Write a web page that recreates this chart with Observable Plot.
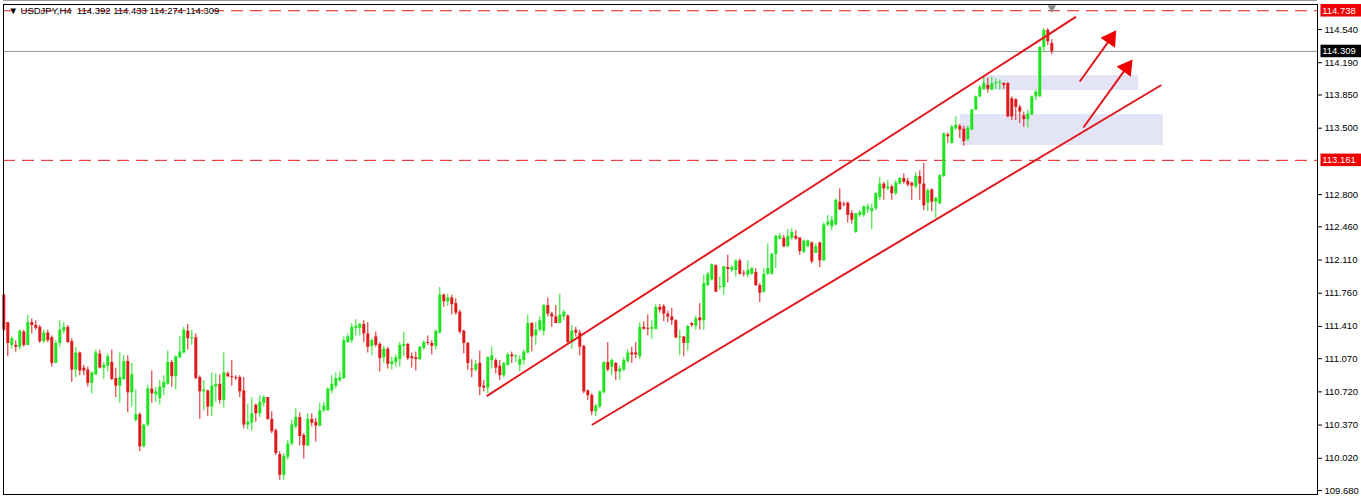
<!DOCTYPE html>
<html><head><meta charset="utf-8">
<script src="https://cdn.jsdelivr.net/npm/d3@7"></script>
<script src="https://cdn.jsdelivr.net/npm/@observablehq/plot@0.6"></script>
<style>body{margin:0;background:#fff} svg{display:block}</style>
</head><body><div id="chart"></div>
<script>
// USDJPY H4 candles
const open = [
111.74,111.45,111.21,111.21,111.19,111.35,111.21,111.45,111.42,111.40,
111.25,111.34,111.29,111.02,111.23,111.36,111.40,111.25,110.95,111.13,
110.97,110.95,110.81,110.90,111.12,110.97,110.99,111.03,110.86,110.78,
110.85,111.04,110.71,110.42,110.48,110.14,110.37,110.75,110.69,110.65,
110.76,110.80,111.03,110.88,111.08,111.13,111.36,111.28,111.29,110.87,
110.72,110.73,110.56,110.77,110.80,110.63,110.91,110.88,110.87,110.87,
110.73,110.37,110.39,110.58,110.49,110.60,110.66,110.43,110.31,110.06,
109.84,110.03,110.17,110.35,110.45,110.26,110.15,110.43,110.40,110.36,
110.52,110.52,110.73,110.78,110.84,110.86,111.24,111.26,111.39,111.39,
111.43,111.33,111.20,111.30,111.22,111.08,111.17,111.01,111.03,111.06,
111.20,111.22,111.09,111.08,111.06,111.18,111.24,111.23,111.20,111.34,
111.74,111.67,111.71,111.65,111.56,111.36,111.23,110.96,110.95,111.02,
110.78,110.76,111.05,111.05,110.99,110.89,111.00,111.11,111.09,111.00,
111.05,111.13,111.44,111.31,111.37,111.36,111.63,111.54,111.51,111.44,
111.51,111.52,111.24,111.37,111.34,111.20,110.73,110.68,110.51,110.56,
110.71,111.03,110.98,111.02,110.93,110.95,111.04,111.13,111.13,111.09,
111.40,111.39,111.38,111.38,111.61,111.62,111.54,111.51,111.47,111.29,
111.30,111.23,111.44,111.41,111.50,111.47,111.84,111.90,112.05,111.82,
111.82,112.03,112.00,112.00,112.10,111.97,111.95,111.96,111.98,111.84,
111.77,111.96,111.96,112.17,112.33,112.34,112.25,112.34,112.36,112.34,
112.19,112.25,112.29,112.18,112.29,112.10,112.48,112.46,112.48,112.72,
112.70,112.71,112.60,112.40,112.58,112.58,112.64,112.62,112.65,112.77,
112.91,112.86,112.88,112.81,112.91,112.97,112.94,112.92,112.88,112.99,
112.91,112.71,112.85,112.72,112.70,112.99,113.43,113.34,113.49,113.52,
113.49,113.38,113.48,113.69,113.83,113.91,113.95,113.90,113.97,113.97,
113.97,113.97,113.81,113.80,113.72,113.63,113.59,113.64,113.83,113.83,
114.35,114.53,114.392];
const high = [
111.75,111.45,111.30,111.26,111.37,111.37,111.53,111.49,111.47,111.42,
111.37,111.37,111.31,111.26,111.47,111.45,111.42,111.28,111.19,111.14,
111.00,110.98,110.93,111.16,111.16,111.03,111.12,111.16,110.97,111.13,
111.10,111.10,111.02,110.74,110.50,110.38,110.79,110.94,110.77,110.84,
110.89,111.15,111.05,111.10,111.30,111.40,111.43,111.37,111.33,110.89,
110.84,110.74,110.92,110.91,110.90,111.13,110.93,111.05,110.89,110.89,
110.87,110.59,110.66,110.59,110.68,110.68,110.66,110.51,110.33,110.09,
110.07,110.21,110.42,110.54,110.50,110.28,110.49,110.49,110.44,110.60,
110.61,110.76,110.89,110.92,110.93,111.30,111.33,111.44,111.48,111.44,
111.47,111.45,111.28,111.35,111.24,111.20,111.19,111.09,111.11,111.24,
111.35,111.23,111.13,111.14,111.20,111.26,111.31,111.26,111.37,111.82,
111.75,111.75,111.74,111.70,111.58,111.37,111.24,111.06,111.05,111.15,
110.84,111.09,111.19,111.07,111.05,111.03,111.13,111.14,111.11,111.10,
111.16,111.53,111.45,111.45,111.51,111.64,111.71,111.56,111.63,111.75,
111.58,111.53,111.42,111.40,111.37,111.21,110.74,110.70,110.59,110.73,
111.04,111.24,111.07,111.03,110.99,111.08,111.16,111.19,111.24,111.45,
111.46,111.53,111.47,111.64,111.64,111.64,111.57,111.60,111.48,111.37,
111.30,111.42,111.45,111.52,111.65,111.95,111.98,112.07,112.06,111.93,
112.04,112.16,112.05,112.11,112.12,112.00,112.10,112.03,112.02,111.86,
112.02,112.28,112.18,112.37,112.39,112.37,112.43,112.44,112.42,112.35,
112.32,112.32,112.30,112.28,112.30,112.50,112.58,112.57,112.75,112.86,
112.72,112.72,112.63,112.60,112.63,112.68,112.70,112.70,112.82,112.98,
112.93,112.95,112.90,112.95,112.98,113.02,112.97,112.93,113.03,113.05,
113.13,112.86,112.86,112.77,113.01,113.45,113.45,113.53,113.62,113.54,
113.52,113.52,113.70,113.84,113.95,114.04,114.03,114.04,114.02,114.01,
113.98,113.98,113.83,113.81,113.74,113.67,113.69,113.84,113.90,114.36,
114.55,114.55,114.433];
const low = [
111.35,111.09,111.17,111.14,111.16,111.19,111.21,111.33,111.37,111.23,
111.23,111.24,110.98,111.02,111.19,111.33,111.23,110.82,110.87,110.89,
110.89,110.77,110.70,110.89,110.96,110.85,110.93,110.84,110.66,110.60,
110.84,110.50,110.56,110.40,110.09,110.13,110.35,110.60,110.61,110.58,
110.68,110.79,110.77,110.74,111.07,111.12,111.16,111.21,110.85,110.43,
110.52,110.46,110.46,110.61,110.59,110.55,110.87,110.78,110.84,110.66,
110.33,110.32,110.31,110.40,110.45,110.56,110.42,110.28,110.05,109.79,
109.79,110.00,110.15,110.33,110.15,110.01,110.14,110.35,110.19,110.35,
110.50,110.52,110.70,110.75,110.82,110.85,111.23,111.23,111.31,111.31,
111.24,111.13,111.10,111.19,110.93,111.02,110.96,110.95,110.98,110.98,
111.09,111.05,110.97,110.94,111.05,111.16,111.21,111.11,111.16,111.33,
111.61,111.62,111.53,111.53,111.33,111.12,110.95,110.87,110.93,110.68,
110.72,110.70,110.96,110.91,110.84,110.87,110.99,111.02,111.03,110.93,
111.00,111.12,111.14,111.21,111.35,111.31,111.51,111.40,111.44,111.44,
111.47,111.23,111.17,111.30,111.10,110.70,110.63,110.47,110.46,110.54,
110.70,110.93,110.89,110.84,110.84,110.93,111.02,111.02,111.07,111.06,
111.37,111.31,111.27,111.37,111.55,111.46,111.45,111.42,111.28,111.10,
111.09,111.15,111.40,111.37,111.37,111.37,111.83,111.89,111.77,111.79,
111.74,111.87,111.98,111.93,111.95,111.93,111.92,111.95,111.83,111.66,
111.76,111.95,111.95,112.02,112.32,112.24,112.24,112.32,112.32,112.16,
112.18,112.24,112.07,112.18,112.03,112.10,112.46,112.42,112.47,112.63,
112.67,112.50,112.49,112.39,112.56,112.56,112.60,112.43,112.63,112.74,
112.74,112.84,112.74,112.79,112.90,112.91,112.88,112.74,112.86,112.74,
112.63,112.62,112.62,112.55,112.70,112.98,113.34,113.33,113.48,113.39,
113.31,113.36,113.48,113.69,113.82,113.90,113.87,113.90,113.91,113.90,
113.91,113.61,113.58,113.58,113.55,113.51,113.50,113.63,113.79,113.83,
114.30,114.37,114.274];
const close = [
111.37,111.23,111.28,111.19,111.36,111.21,111.45,111.42,111.39,111.25,
111.34,111.26,111.02,111.23,111.37,111.40,111.24,110.95,111.13,110.94,
110.94,110.81,110.92,111.13,110.97,111.00,111.09,110.85,110.78,110.87,
111.04,110.71,110.90,110.48,110.14,110.37,110.75,110.70,110.72,110.77,
110.82,111.03,110.88,111.09,111.14,111.37,111.28,111.29,110.86,110.72,
110.74,110.56,110.78,110.80,110.63,110.92,110.88,110.87,110.86,110.72,
110.37,110.40,110.49,110.49,110.61,110.66,110.43,110.30,110.07,109.84,
110.04,110.17,110.37,110.45,110.25,110.15,110.43,110.39,110.36,110.52,
110.57,110.75,110.80,110.86,110.87,111.26,111.30,111.40,111.41,111.43,
111.33,111.19,111.26,111.21,111.07,111.17,111.01,111.04,111.08,111.21,
111.22,111.07,111.07,111.06,111.19,111.24,111.23,111.20,111.36,111.74,
111.67,111.71,111.64,111.55,111.35,111.23,111.02,110.95,111.01,110.77,
110.76,111.08,111.10,110.97,110.89,111.02,111.11,111.09,111.10,111.06,
111.14,111.44,111.30,111.37,111.47,111.63,111.54,111.51,111.44,111.53,
111.56,111.24,111.36,111.34,111.19,110.72,110.68,110.51,110.57,110.72,
111.03,110.95,111.05,110.93,110.96,111.05,111.13,111.11,111.11,111.40,
111.38,111.38,111.40,111.61,111.58,111.54,111.51,111.47,111.29,111.30,
111.23,111.41,111.42,111.49,111.47,111.86,111.96,112.06,111.77,111.83,
112.04,112.01,112.03,112.10,111.96,111.96,112.00,112.02,111.84,111.76,
111.96,112.02,112.17,112.36,112.36,112.25,112.36,112.40,112.33,112.20,
112.31,112.31,112.09,112.25,112.10,112.48,112.51,112.53,112.74,112.64,
112.69,112.58,112.53,112.60,112.61,112.67,112.67,112.65,112.81,112.91,
112.86,112.88,112.81,112.92,112.97,112.93,112.90,112.89,112.99,112.91,
112.68,112.84,112.72,112.76,113.00,113.44,113.41,113.51,113.53,113.48,
113.36,113.50,113.69,113.83,113.93,113.97,113.91,113.97,113.98,113.98,
113.95,113.62,113.62,113.72,113.67,113.59,113.65,113.83,113.88,114.35,
114.53,114.41,114.309];

// price axis
const tickValues = [114.540,114.190,113.850,113.500,112.800,112.460,112.110,111.760,111.410,111.070,110.720,110.370,110.020,109.680];
// horizontal levels
const dashedLevels = [114.738, 113.161];
const lastPrice = 114.309;
const header = "▼ USDJPY,H4  114.392 114.433 114.274 114.309";
// channel lines: [bar index, price]
const upperChannel = [[120.9, 110.68], [267.9, 114.67]];
const lowerChannel = [[147.2, 110.376], [289.2, 113.95]];
// shaded zones: [i1, i2, priceTop, priceBottom]
const zones = [[244.7, 283.7, 114.055, 113.897], [239.2, 289.9, 113.644, 113.317]];
// arrows: [i start, price start, i head, price head, angle]
const arrows = [[269.0, 113.992, 276.7, 114.445, 34], [269.9, 113.507, 280.7, 114.139, 36]];

const GREEN = "#1de41d", RED = "#e01a1a", CHRED = "#e3161b";
const candles = open.map((o, i) => ({i, open: o, high: high[i], low: low[i], close: close[i], col: close[i] >= o ? GREEN : RED}));

const xDom = [-0.075, 328.425];
const yDom = [109.638, 114.804];
const lbl = (p, bg) => ({p, bg, t: p.toFixed(3)});
const boxes = [lbl(114.738, "#f00000"), lbl(lastPrice, "#000"), lbl(113.161, "#f00000")];

const chart = Plot.plot({
  width: 1361, height: 496,
  marginLeft: 3, marginRight: 44, marginTop: 4, marginBottom: 2,
  x: {domain: xDom, axis: null},
  y: {domain: yDom, axis: null},
  color: {type: "identity"},
  style: {fontFamily: "Liberation Sans, Arial, sans-serif", fontSize: "9.5px", color: "#000", background: "#fff"},
  marks: [
    Plot.ruleY([114.846], {stroke: "#9a9a9a"}),
    Plot.rect(zones, {x1: d => d[0], x2: d => d[1], y1: d => d[2], y2: d => d[3], fill: "#e3e5f7"}),
    Plot.ruleY(dashedLevels, {stroke: RED, strokeDasharray: "12,7"}),
    Plot.ruleY([lastPrice], {stroke: "#8c9a9a"}),
    Plot.ruleX(candles, {x: "i", y1: "low", y2: "high", stroke: "col", strokeWidth: 1}),
    Plot.ruleX(candles, {x: "i", y1: "open", y2: "close", stroke: "col", strokeWidth: 3}),
    Plot.line(upperChannel, {x: d => d[0], y: d => d[1], stroke: CHRED, strokeWidth: 2}),
    Plot.line(lowerChannel, {x: d => d[0], y: d => d[1], stroke: CHRED, strokeWidth: 2}),
    Plot.link(arrows, {x1: d => d[0], y1: d => d[1], x2: d => d[2], y2: d => d[3], stroke: CHRED, strokeWidth: 2}),
    Plot.dot(arrows, {x: d => d[2], y: d => d[3], symbol: "triangle", r: 6.5, fill: "#f00000", stroke: "none", rotate: d => d[4]}),
    Plot.dot([262], {x: d => d, y: 114.77, symbol: "triangle", r: 3.2, fill: "#8a8a8a", rotate: 180}),
    Plot.frame({stroke: "#000"}),
    Plot.axisY(tickValues, {anchor: "right", tickSize: 4, tickPadding: 3, tickFormat: d => d.toFixed(3), fontSize: 9.5}),
    Plot.rect(boxes, {x1: 329.3, x2: 340, y1: d => d.p + 0.066, y2: d => d.p - 0.066, fill: "bg"}),
    Plot.text(boxes, {x: 329.6, y: "p", text: "t", fill: "#fff", textAnchor: "start", fontSize: 9.5}),
    Plot.text([header], {frameAnchor: "top-left", dx: 5, dy: 6, text: d => d, textAnchor: "start", lineAnchor: "middle", fontSize: 9.5, fill: "#000"})
  ]
});
document.getElementById("chart").appendChild(chart);
</script>
</body></html>
